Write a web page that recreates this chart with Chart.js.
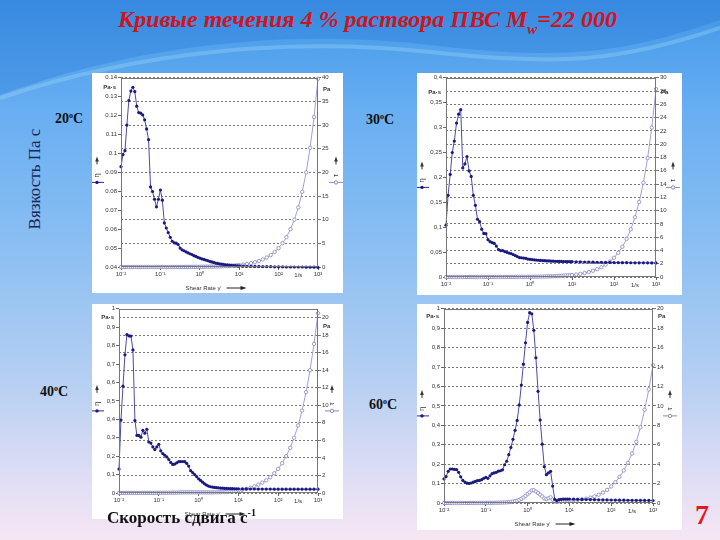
<!DOCTYPE html>
<html>
<head>
<meta charset="utf-8">
<script src="https://cdn.jsdelivr.net/npm/chart.js@4/dist/chart.umd.min.js"></script>
<style>
  html, body { margin: 0; padding: 0; }
  body {
    width: 720px; height: 540px; position: relative; overflow: hidden;
    font-family: "Liberation Serif", "Times New Roman", serif;
    background: linear-gradient(to bottom, #3f93e6 0px, #4fa0ec 40px, #68aef2 110px, #8cbff2 250px, #b5cff2 380px, #dcdcf4 470px, #f6e6f4 540px);
  }
  .wave { position: absolute; left: 0; top: 0; }
  .panel { position: absolute; background: #fff; }
  .txt { position: absolute; white-space: nowrap; }
  #title { left: 118px; top: 6px; font: italic bold 24px "Liberation Serif", serif; color: #d0141e; }
  #title sub { font-size: 15px; vertical-align: -7px; line-height: 0; }
  #ylab { left: 35px; top: 179px; transform: translate(-50%, -50%) rotate(-90deg); font-size: 17px; color: #1c2550; }
  .temp { font-weight: bold; font-size: 14px; color: #111; transform: translate(-50%, -50%); }
  .temp sup { font-size: 8px; vertical-align: 5px; line-height: 0; }
  #xlab { left: 107px; top: 508px; font-weight: bold; font-size: 17px; color: #111; z-index: 5; }
  #xlab sup { font-size: 10px; vertical-align: 7px; line-height: 0; }
  #page { left: 695px; top: 499px; font-weight: bold; font-size: 28px; color: #e8141e; }
</style>
</head>
<body>
<svg class="wave" width="720" height="120">
  <path d="M0 95 C 150 40, 300 30, 430 45 S 620 55, 720 20 L 720 0 L 0 0 Z" fill="rgba(40,120,215,0.35)"/>
  <path d="M0 98 C 150 48, 300 38, 430 52 S 620 62, 720 28" fill="none" stroke="rgba(170,225,245,0.3)" stroke-width="4"/>
</svg>

<div id="title" class="txt">Кривые течения 4 % раствора ПВС M<sub>w</sub>=22 000</div>
<div id="ylab" class="txt">Вязкость Па с</div>

<canvas id="p20" class="panel" width="251" height="220" style="left:92px;top:73px"></canvas>
<canvas id="p30" class="panel" width="265" height="222" style="left:417px;top:73px"></canvas>
<canvas id="p40" class="panel" width="251" height="215" style="left:92px;top:304px"></canvas>
<canvas id="p60" class="panel" width="265" height="226" style="left:417px;top:304px"></canvas>

<div class="txt temp" style="left:69px;top:119px">20<sup>o</sup>C</div>
<div class="txt temp" style="left:380px;top:120px">30<sup>o</sup>C</div>
<div class="txt temp" style="left:54px;top:392px">40<sup>o</sup>C</div>
<div class="txt temp" style="left:383px;top:405px">60<sup>o</sup>C</div>

<div id="xlab" class="txt">Скорость сдвига с<sup>-1</sup></div>
<div id="page" class="txt">7</div>

<script>
// shear rate, 1/s (same grid for every panel)
const shearRate = [
  0.01, 0.0112, 0.0126, 0.0141, 0.0158, 0.0178, 0.02, 0.0224, 0.0251, 0.0282,
  0.0316, 0.0355, 0.0398, 0.0447, 0.0501, 0.0562, 0.0631, 0.0708, 0.0794, 0.0891,
  0.1, 0.112, 0.126, 0.141, 0.158, 0.178, 0.2, 0.224, 0.251, 0.282,
  0.316, 0.355, 0.398, 0.447, 0.501, 0.562, 0.631, 0.708, 0.794, 0.891,
  1, 1.12, 1.26, 1.41, 1.58, 1.78, 2, 2.24, 2.51, 2.82,
  3.16, 3.55, 3.98, 4.47, 5.01, 5.62, 6.31, 7.08, 7.94, 8.91,
  10, 12.6, 15.8, 20, 25.1, 31.6, 39.8, 50.1, 63.1, 79.4,
  100, 126, 158, 200, 251, 316, 398, 501, 631, 794, 1000
];

// 20 C
const eta20 = [
  0.093, 0.0994, 0.1015, 0.115, 0.128, 0.133, 0.135, 0.1327, 0.125, 0.1216,
  0.1213, 0.1204, 0.1178, 0.113, 0.1073, 0.0823, 0.0799, 0.0758, 0.0718, 0.0758,
  0.0807, 0.0753, 0.0633, 0.0606, 0.0582, 0.0557, 0.0536, 0.0528, 0.0526, 0.0519,
  0.050, 0.0491, 0.0486, 0.048, 0.0475, 0.047, 0.0466, 0.046, 0.0456, 0.0451,
  0.0447, 0.0443, 0.044, 0.0437, 0.0434, 0.043, 0.0427, 0.0424, 0.0421, 0.0419,
  0.0417, 0.0415, 0.0414, 0.0412, 0.0411, 0.041, 0.0409, 0.0408, 0.0407, 0.0406,
  0.0406, 0.0405, 0.0404, 0.0404, 0.0403, 0.0403, 0.0402, 0.0402, 0.0402, 0.0401,
  0.0401, 0.0401, 0.04, 0.04, 0.04, 0.04, 0.04, 0.0399, 0.0399, 0.0399, 0.0398
];
const tau20 = [
  0.001, 0.001, 0.001, 0.002, 0.002, 0.002, 0.003, 0.003, 0.003, 0.003,
  0.004, 0.004, 0.005, 0.005, 0.005, 0.005, 0.005, 0.005, 0.006, 0.007,
  0.008, 0.008, 0.008, 0.009, 0.009, 0.01, 0.011, 0.012, 0.013, 0.015,
  0.016, 0.017, 0.019, 0.021, 0.024, 0.026, 0.029, 0.033, 0.036, 0.04,
  0.045, 0.05, 0.055, 0.062, 0.069, 0.077, 0.085, 0.095, 0.106, 0.118,
  0.132, 0.147, 0.165, 0.184, 0.206, 0.231, 0.259, 0.29, 0.325, 0.362,
  0.41, 0.51, 0.64, 0.81, 1.01, 1.27, 1.6, 2.01, 2.53, 3.18,
  4.0, 5.04, 6.3, 8.0, 10.0, 12.6, 15.9, 20.0, 25.2, 31.7, 39.8
];

// 30 C
const eta30 = [
  0.104, 0.164, 0.206, 0.25, 0.273, 0.309, 0.327, 0.336, 0.219, 0.227,
  0.242, 0.213, 0.202, 0.164, 0.144, 0.116, 0.111, 0.096, 0.0875, 0.087,
  0.075, 0.071, 0.069, 0.0675, 0.062, 0.055, 0.053, 0.053, 0.051, 0.0495,
  0.048, 0.047, 0.045, 0.043, 0.041, 0.039, 0.0387, 0.038, 0.0375, 0.036,
  0.0355, 0.035, 0.0345, 0.034, 0.0336, 0.0333, 0.033, 0.0327, 0.0325, 0.0322,
  0.032, 0.0318, 0.0316, 0.0315, 0.0313, 0.0312, 0.0311, 0.031, 0.0309, 0.0308,
  0.0307, 0.0305, 0.0303, 0.0301, 0.03, 0.0298, 0.0296, 0.0295, 0.0293, 0.0292,
  0.029, 0.0289, 0.0288, 0.0287, 0.0286, 0.0285, 0.0285, 0.0284, 0.0284, 0.0283, 0.0283
];
const tau30 = [
  0.001, 0.002, 0.003, 0.004, 0.004, 0.005, 0.007, 0.008, 0.005, 0.006,
  0.008, 0.008, 0.008, 0.007, 0.007, 0.007, 0.007, 0.007, 0.007, 0.008,
  0.008, 0.008, 0.009, 0.01, 0.01, 0.01, 0.011, 0.012, 0.013, 0.014,
  0.015, 0.017, 0.018, 0.019, 0.021, 0.022, 0.024, 0.027, 0.03, 0.032,
  0.036, 0.039, 0.043, 0.048, 0.053, 0.059, 0.066, 0.073, 0.082, 0.091,
  0.1, 0.113, 0.126, 0.141, 0.157, 0.176, 0.197, 0.22, 0.245, 0.275,
  0.307, 0.384, 0.477, 0.6, 0.75, 0.94, 1.18, 1.47, 1.85, 2.32,
  2.9, 3.64, 4.55, 5.74, 7.18, 9.0, 11.3, 14.2, 17.9, 22.5, 28.3
];

// 40 C
const eta40 = [
  0.13, 0.396, 0.58, 0.75, 0.86, 0.853, 0.852, 0.777, 0.393, 0.3125,
  0.3125, 0.303, 0.34, 0.325, 0.346, 0.277, 0.271, 0.25, 0.236, 0.25,
  0.264, 0.229, 0.214, 0.205, 0.196, 0.182, 0.166, 0.155, 0.157, 0.164,
  0.17, 0.171, 0.171, 0.17, 0.161, 0.146, 0.121, 0.111, 0.1, 0.089,
  0.077, 0.068, 0.059, 0.05, 0.043, 0.0375, 0.034, 0.032, 0.03, 0.029,
  0.028, 0.027, 0.026, 0.0255, 0.025, 0.0245, 0.024, 0.0235, 0.023, 0.0228,
  0.0225, 0.0222, 0.022, 0.0218, 0.0216, 0.0214, 0.0213, 0.0212, 0.0211, 0.021,
  0.021, 0.0209, 0.0208, 0.0208, 0.0207, 0.0207, 0.0206, 0.0206, 0.0205, 0.0205, 0.0205
];
const tau40 = [
  0.001, 0.004, 0.007, 0.011, 0.014, 0.015, 0.017, 0.017, 0.01, 0.009,
  0.01, 0.011, 0.014, 0.015, 0.017, 0.016, 0.017, 0.018, 0.019, 0.022,
  0.026, 0.026, 0.027, 0.029, 0.031, 0.032, 0.033, 0.035, 0.039, 0.046,
  0.054, 0.061, 0.068, 0.076, 0.081, 0.082, 0.076, 0.079, 0.079, 0.079,
  0.077, 0.076, 0.074, 0.071, 0.068, 0.067, 0.068, 0.072, 0.075, 0.082,
  0.089, 0.096, 0.104, 0.114, 0.125, 0.14, 0.16, 0.18, 0.21, 0.25,
  0.3, 0.38, 0.47, 0.6, 0.75, 0.95, 1.18, 1.45, 1.8, 2.25,
  2.75, 3.4, 4.2, 5.15, 6.3, 7.7, 9.4, 11.5, 14.0, 17.0, 20.5
];

// 60 C
const eta60 = [
  0.124, 0.136, 0.163, 0.175, 0.175, 0.173, 0.172, 0.158, 0.135, 0.116,
  0.108, 0.102, 0.101, 0.103, 0.107, 0.111, 0.115, 0.116, 0.12, 0.127,
  0.132, 0.127, 0.14, 0.151, 0.155, 0.158, 0.164, 0.166, 0.171, 0.197,
  0.215, 0.249, 0.286, 0.328, 0.374, 0.425, 0.505, 0.607, 0.715, 0.825,
  0.93, 0.98, 0.974, 0.889, 0.748, 0.575, 0.427, 0.303, 0.187, 0.146,
  0.155, 0.163, 0.087, 0.019, 0.012, 0.017, 0.019, 0.02, 0.02, 0.02,
  0.02, 0.0195, 0.019, 0.0185, 0.018, 0.0175, 0.017, 0.0165, 0.016, 0.0158,
  0.0155, 0.015, 0.0148, 0.0145, 0.0142, 0.014, 0.0138, 0.0136, 0.0134, 0.0132, 0.013
];
const tau60 = [
  0.001, 0.002, 0.002, 0.002, 0.003, 0.003, 0.003, 0.004, 0.003, 0.003,
  0.003, 0.004, 0.004, 0.005, 0.005, 0.006, 0.007, 0.008, 0.01, 0.011,
  0.013, 0.014, 0.018, 0.021, 0.025, 0.028, 0.033, 0.037, 0.043, 0.056,
  0.068, 0.088, 0.114, 0.147, 0.187, 0.239, 0.319, 0.43, 0.568, 0.735,
  0.93, 1.1, 1.3, 1.32, 1.18, 1.02, 0.85, 0.68, 0.47, 0.41,
  0.49, 0.58, 0.35, 0.15, 0.14, 0.16, 0.18, 0.2, 0.22, 0.24,
  0.26, 0.29, 0.33, 0.38, 0.45, 0.55, 0.68, 0.85, 1.07, 1.35,
  1.7, 2.15, 2.7, 3.35, 4.15, 5.1, 6.3, 7.8, 9.6, 11.7, 14.2
];

const xTickValues = [0.01, 0.1, 1, 10, 100, 1000];
const xTickLabels = ['10⁻²', '10⁻¹', '10⁰', '10¹', '10²', '10³'];

Chart.defaults.font.family = 'Arial, "Liberation Sans", sans-serif';
const tickFont = { size: 6 };
const tickColor = '#333';

function fmt(v, comma) {
  const s = String(Math.round(v * 1000) / 1000);
  return comma ? s.replace('.', ',') : s;
}

function pts(ys) {
  return shearRate.map((x, i) => ({ x: x, y: ys[i] }));
}

// small marker used beside the axes ( arrow, symbol, line with dot )
function legendMark(ctx, x, mid, sym, filled) {
  ctx.strokeStyle = '#333';
  ctx.fillStyle = '#333';
  ctx.lineWidth = 1;
  ctx.beginPath();
  ctx.moveTo(x, mid - 8);
  ctx.lineTo(x, mid - 12);
  ctx.stroke();
  ctx.beginPath();
  ctx.moveTo(x - 1.8, mid - 11);
  ctx.lineTo(x, mid - 16);
  ctx.lineTo(x + 1.8, mid - 11);
  ctx.closePath();
  ctx.fill();

  ctx.save();
  ctx.translate(x, mid + 3);
  ctx.rotate(-Math.PI / 2);
  ctx.textAlign = 'center';
  ctx.textBaseline = 'middle';
  ctx.font = '7px Arial, sans-serif';
  ctx.fillText(sym, 0, 0);
  ctx.restore();

  ctx.strokeStyle = filled ? '#2a2a8a' : '#8a8ac8';
  ctx.beginPath();
  ctx.moveTo(x - 7, mid + 10);
  ctx.lineTo(x + 7, mid + 10);
  ctx.stroke();
  ctx.beginPath();
  ctx.arc(x, mid + 10, 1.7, 0, Math.PI * 2);
  if (filled) {
    ctx.fillStyle = '#1a1a80';
    ctx.fill();
  } else {
    ctx.fillStyle = '#fff';
    ctx.fill();
    ctx.stroke();
  }
}

const panelDecor = {
  id: 'panelDecor',
  afterDraw(chart, args, o) {
    const { ctx, chartArea: a } = chart;
    const xs = chart.scales.x;
    ctx.save();
    // plot frame
    ctx.strokeStyle = '#777';
    ctx.lineWidth = 1;
    ctx.strokeRect(Math.round(a.left) + 0.5, Math.round(a.top) + 0.5,
      Math.round(a.right - a.left) - 1, Math.round(a.bottom - a.top) - 1);

    ctx.fillStyle = '#333';
    ctx.font = 'bold 6px Arial, sans-serif';
    ctx.textBaseline = 'middle';
    ctx.textAlign = 'right';
    ctx.fillText('Pa·s', a.left - 5, a.top + o.unitDy);
    ctx.textAlign = 'left';
    ctx.fillText('Pa', a.right + 5, a.top + o.unitDyR);

    ctx.font = '6px Arial, sans-serif';
    ctx.textAlign = 'center';
    ctx.textBaseline = 'top';
    ctx.fillText('1/s', (xs.getPixelForValue(100) + xs.getPixelForValue(1000)) / 2, a.bottom + 5);

    if (o.shear) {
      const mid = (a.left + a.right) / 2;
      const y = a.bottom + 21;
      ctx.textAlign = 'left';
      ctx.textBaseline = 'middle';
      ctx.fillText('Shear Rate γ̇', mid - 34, y);
      const x0 = mid - 34 + ctx.measureText('Shear Rate γ̇').width + 6;
      ctx.strokeStyle = '#222';
      ctx.beginPath();
      ctx.moveTo(x0, y);
      ctx.lineTo(x0 + 16, y);
      ctx.stroke();
      ctx.beginPath();
      ctx.moveTo(x0 + 14, y - 2);
      ctx.lineTo(x0 + 20, y);
      ctx.lineTo(x0 + 14, y + 2);
      ctx.closePath();
      ctx.fillStyle = '#222';
      ctx.fill();
    }

    const midY = (a.top + a.bottom) / 2;
    legendMark(ctx, a.left - o.legL, midY, 'η', true);
    legendMark(ctx, a.right + o.legR, midY, 'τ', false);
    ctx.restore();
  }
};

function makePanel(id, eta, tau, c) {
  new Chart(document.getElementById(id), {
    type: 'line',
    data: {
      datasets: [
        {
          label: 'η', data: pts(eta), yAxisID: 'yL', order: 1, clip: 6,
          borderColor: '#4a4aac', borderWidth: 1, tension: 0,
          pointRadius: 1.6, pointBackgroundColor: '#1a1a80', pointBorderColor: '#1a1a80', pointBorderWidth: 0
        },
        {
          label: 'τ', data: pts(tau), yAxisID: 'yR', order: 2, clip: 6,
          borderColor: '#a0a0da', borderWidth: 1, tension: 0,
          pointRadius: 1.7, pointBackgroundColor: '#fff', pointBorderColor: '#8484c8', pointBorderWidth: 0.8
        }
      ]
    },
    options: {
      responsive: false,
      animation: false,
      layout: { padding: { top: c.top, left: 0, right: 0, bottom: 0 } },
      plugins: { legend: { display: false }, tooltip: { enabled: false }, panelDecor: c },
      scales: {
        x: {
          type: 'logarithmic', min: 0.01, max: 1000,
          afterBuildTicks: s => { s.ticks = xTickValues.map(v => ({ value: v })); },
          afterFit: s => { s.height = c.bottom; },
          ticks: { callback: (v, i) => xTickLabels[i], font: tickFont, color: tickColor, padding: 1, maxRotation: 0, autoSkip: false },
          grid: { drawOnChartArea: false, tickLength: 3, color: '#666' },
          border: { display: false }
        },
        yL: {
          position: 'left', min: c.yMin, max: c.yMax,
          afterFit: s => { s.width = c.left; },
          ticks: { stepSize: c.yStep, callback: v => fmt(v, c.comma), font: tickFont, color: tickColor, padding: 1, autoSkip: false },
          grid: { drawOnChartArea: false, tickLength: 3, color: '#666' },
          border: { display: false }
        },
        yR: {
          position: 'right', min: 0, max: c.rMax,
          afterFit: s => { s.width = c.right; },
          ticks: { stepSize: c.rStep, includeBounds: false, callback: v => fmt(v, false), font: tickFont, color: tickColor, padding: 1, autoSkip: false },
          grid: { drawOnChartArea: true, tickLength: 3, color: '#555', lineWidth: 0.8, tickBorderDash: [] },
          border: { display: false, dash: [2, 2] }
        }
      }
    },
    plugins: [panelDecor]
  });
}

makePanel('p20', eta20, tau20, { left: 29, right: 25, top: 3, bottom: 26, yMin: 0.04, yMax: 0.14, yStep: 0.01, rMax: 40, rStep: 5, comma: false, unitDy: 10, unitDyR: 12, legL: 24, legR: 18, shear: true });
makePanel('p30', eta30, tau30, { left: 29, right: 26, top: 4, bottom: 18, yMin: 0, yMax: 0.4, yStep: 0.05, rMax: 30, rStep: 2, comma: true, unitDy: 15, unitDyR: 15, legL: 24, legR: 17, shear: false });
makePanel('p40', eta40, tau40, { left: 27, right: 25, top: 3, bottom: 26, yMin: 0, yMax: 1, yStep: 0.1, rMax: 21, rStep: 2, comma: true, unitDy: 9, unitDyR: 18, legL: 22, legR: 14, shear: true });
makePanel('p60', eta60, tau60, { left: 27, right: 29, top: 3, bottom: 27, yMin: 0, yMax: 1, yStep: 0.1, rMax: 20, rStep: 2, comma: true, unitDy: 8, unitDyR: 8, legL: 22, legR: 17, shear: true });
</script>
</body>
</html>
